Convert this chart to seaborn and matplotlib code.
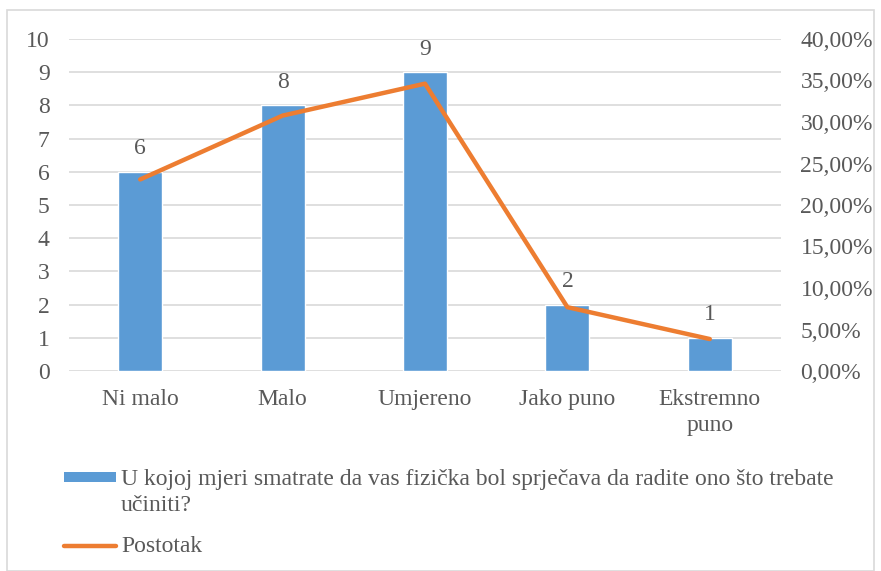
import numpy as np
import pandas as pd
import matplotlib
matplotlib.use('Agg')
import matplotlib.pyplot as plt
import seaborn as sns
from matplotlib.patches import Rectangle
from matplotlib.lines import Line2D
from matplotlib.ticker import FuncFormatter

categories = ['Ni malo', 'Malo', 'Umjereno', 'Jako puno', 'Ekstremno\npuno']
counts = [6, 8, 9, 2, 1]
percent = [23.08, 30.77, 34.62, 7.69, 3.85]
bar_label = 'U kojoj mjeri smatrate da vas fizička bol sprječava da radite ono što trebate\nučiniti?'
line_label = 'Postotak'

BLUE = '#5B9BD5'
ORANGE = '#ED7D31'
TXT = '#595959'
GRID = '#D9D9D9'

sns.set_theme(style='white')
plt.rcParams['font.family'] = ['Liberation Serif', 'DejaVu Serif']
FS = 17

df = pd.DataFrame({'cat': categories, 'count': counts, 'pct': percent})

W, H = 881, 571
fig = plt.figure(figsize=(W / 100, H / 100), dpi=100)
ax = fig.add_axes([69 / W, 1 - 371 / H, 712 / W, 332 / H])

sns.barplot(data=df, x='cat', y='count', color=BLUE, width=0.31,
            saturation=1, ax=ax, zorder=2)
ax.set_ylim(0, 10)
ax.set_yticks(range(0, 11))
ax.set_xlim(-0.5, 4.5)
ax.grid(axis='y', color=GRID, lw=1.2, zorder=0)
ax.set_axisbelow(True)
for s in ax.spines.values():
    s.set_visible(False)
ax.set_xlabel('')
ax.set_ylabel('')
ax.tick_params(axis='y', length=0, pad=14, labelsize=FS, labelcolor=TXT)
ax.tick_params(axis='x', length=0, pad=13, labelsize=FS, labelcolor=TXT)
for t in ax.get_xticklabels():
    t.set_linespacing(1.3)

for i, v in enumerate(counts):
    ax.annotate(str(v), (i, v), xytext=(0, 9), textcoords='offset points',
                ha='center', va='bottom', fontsize=FS, color=TXT)

ax2 = ax.twinx()
sns.lineplot(x=np.arange(len(percent)), y=percent, color=ORANGE, lw=3.2,
             ax=ax2, zorder=3)
ax2.lines[0].set_solid_capstyle('round')
ax2.lines[0].set_solid_joinstyle('round')
ax2.set_ylim(0, 40)
ax2.set_yticks(range(0, 41, 5))
ax2.yaxis.set_major_formatter(FuncFormatter(lambda v, p: f'{v:.2f}%'.replace('.', ',')))
for s in ax2.spines.values():
    s.set_visible(False)
ax2.tick_params(axis='y', length=0, pad=14, labelsize=FS, labelcolor=TXT)
ax2.set_ylabel('')

# chart frame
fig.patches.append(Rectangle((7 / W, 0), (W - 14) / W, 1 - 10 / H, transform=fig.transFigure,
                             fill=False, edgecolor=GRID, lw=1.2))

# legend
fig.patches.append(Rectangle((64 / W, 1 - 482 / H), 52 / W, 10 / H, transform=fig.transFigure,
                             facecolor=BLUE, edgecolor='none'))
fig.text(121 / W, 1 - 469 / H, bar_label, fontsize=FS, color=TXT, va='top',
         linespacing=1.3)
fig.lines.append(Line2D([64 / W, 116 / W], [1 - 546 / H, 1 - 546 / H], transform=fig.transFigure,
                        color=ORANGE, lw=3.2, solid_capstyle='round'))
fig.text(121 / W, 1 - 546 / H, line_label, fontsize=FS, color=TXT, va='center')

fig.savefig('out.png', dpi=100)
